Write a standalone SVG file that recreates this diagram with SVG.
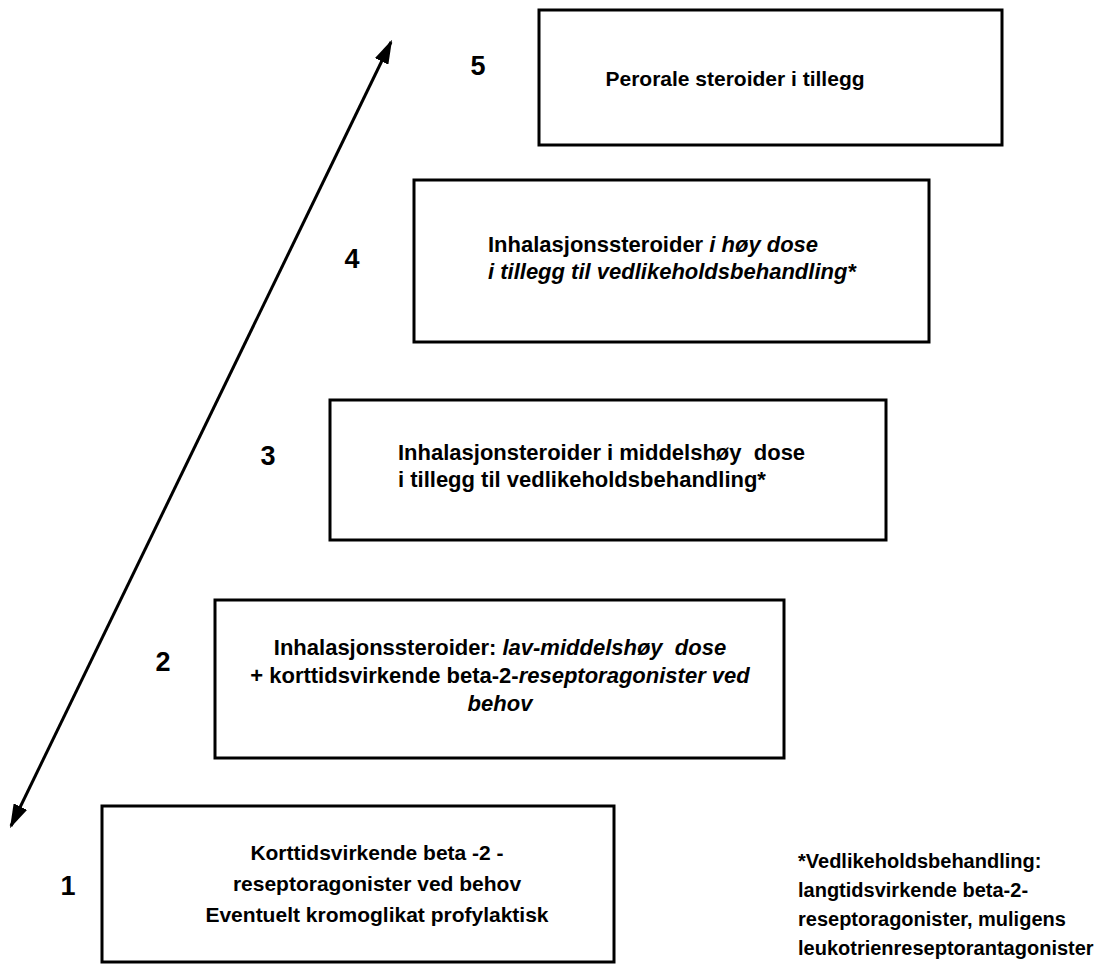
<svg xmlns="http://www.w3.org/2000/svg" width="1105" height="973" viewBox="0 0 1105 973">
<style>
  .box { fill: #ffffff; stroke: #000000; stroke-width: 3; }
  .t { font-family: "Liberation Sans", Arial, sans-serif; font-weight: bold; font-size: 22px; fill: #000000; white-space: pre; }
  .s { font-size: 21px; }
  .f { font-size: 20px; }
  .num { font-family: "Liberation Sans", Arial, sans-serif; font-weight: bold; font-size: 27px; fill: #000000; }
  .it { font-style: italic; }
  .arrow { stroke: #000000; stroke-width: 3; fill: none; }
</style>
<defs>
  <marker id="head" viewBox="0 0 10 10" refX="9" refY="5" markerWidth="8" markerHeight="5" orient="auto-start-reverse" markerUnits="strokeWidth" preserveAspectRatio="none">
    <path d="M0,0 L10,5 L0,10 Z" fill="#000000"/>
  </marker>
</defs>
<rect width="1105" height="973" fill="#ffffff"/>

<g id="connectors">
  <line class="arrow" x1="11" y1="826" x2="391" y2="42" marker-start="url(#head)" marker-end="url(#head)"/>
</g>

<g id="step5">
  <rect class="box" x="539" y="10" width="463" height="135"/>
  <text class="num" x="478" y="75" text-anchor="middle">5</text>
  <text class="t s" x="735" y="86" text-anchor="middle">Perorale steroider i tillegg</text>
</g>

<g id="step4">
  <rect class="box" x="414" y="180" width="515" height="162"/>
  <text class="num" x="352" y="268" text-anchor="middle">4</text>
  <text class="t" x="488" y="252">Inhalasjonssteroider <tspan class="it">i høy dose</tspan></text>
  <text class="t it" x="488" y="279">i tillegg til vedlikeholdsbehandling*</text>
</g>

<g id="step3">
  <rect class="box" x="330" y="400" width="556" height="140"/>
  <text class="num" x="268" y="465" text-anchor="middle">3</text>
  <text class="t" x="398" y="460">Inhalasjonsteroider i middelshøy  dose</text>
  <text class="t" x="398" y="487">i tillegg til vedlikeholdsbehandling*</text>
</g>

<g id="step2">
  <rect class="box" x="215" y="600" width="569" height="158"/>
  <text class="num" x="163" y="671" text-anchor="middle">2</text>
  <text class="t" x="500" y="655" text-anchor="middle">Inhalasjonssteroider: <tspan class="it">lav-middelshøy  dose</tspan></text>
  <text class="t" x="500" y="683" text-anchor="middle">+ korttidsvirkende beta-2-<tspan class="it">reseptoragonister ved</tspan></text>
  <text class="t it" x="500" y="711" text-anchor="middle">behov</text>
</g>

<g id="step1">
  <rect class="box" x="102" y="806" width="512" height="156"/>
  <text class="num" x="68" y="895" text-anchor="middle">1</text>
  <text class="t s" x="377" y="860" text-anchor="middle">Korttidsvirkende beta -2 -</text>
  <text class="t s" x="377" y="891" text-anchor="middle">reseptoragonister ved behov</text>
  <text class="t s" x="377" y="922" text-anchor="middle">Eventuelt kromoglikat profylaktisk</text>
</g>

<g id="footnote">
  <text class="t f" x="798" y="868">*Vedlikeholdsbehandling:</text>
  <text class="t f" x="798" y="897">langtidsvirkende beta-2-</text>
  <text class="t f" x="798" y="926">reseptoragonister, muligens</text>
  <text class="t f" x="798" y="955">leukotrienreseptorantagonister</text>
</g>
</svg>
